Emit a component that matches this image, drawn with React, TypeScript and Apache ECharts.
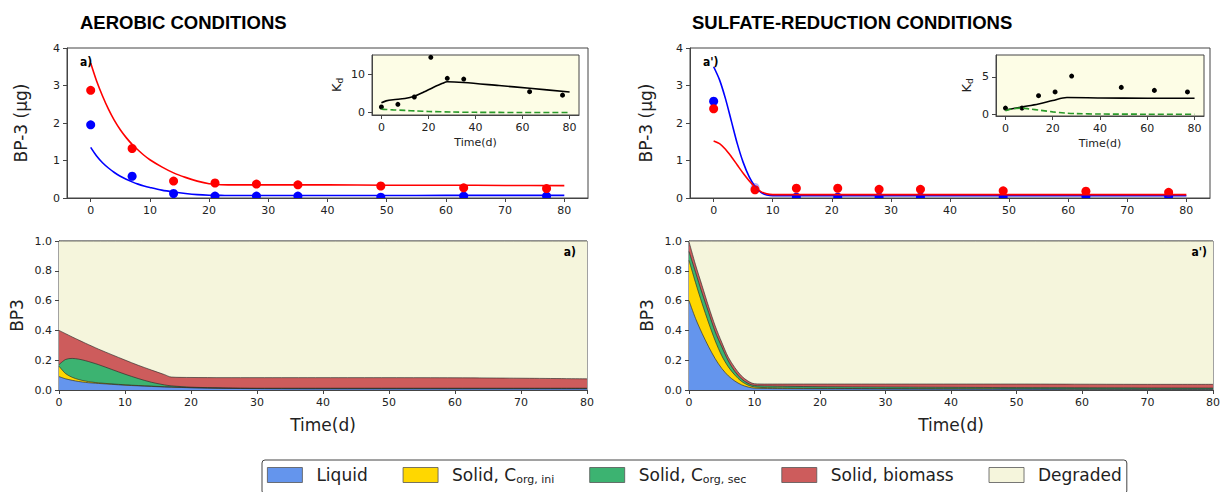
import { useEffect, useRef } from "react";
import * as echarts from "echarts";

// ---------- DATA ----------
const sampleDays = [0, 7, 14, 21, 28, 35, 49, 63, 77];
const aerobicRedObs = [2.87, 1.32, 0.45, 0.4, 0.37, 0.35, 0.32, 0.27, 0.25];
const aerobicBlueObs = [1.95, 0.58, 0.12, 0.05, 0.05, 0.05, 0.02, 0.05, 0.05];
const sulfateRedObs = [2.38, 0.22, 0.26, 0.26, 0.23, 0.23, 0.19, 0.18, 0.15];
const sulfateBlueObs = [2.58, 0.28, 0.02, 0.02, 0.02, 0.02, 0.02, 0.04, 0.04];

const aerobicModelDays = [0, 1, 2, 3, 4, 5, 6, 7, 8, 9, 10, 12, 14, 16, 18, 20, 22, 25, 30, 40, 50, 60, 70, 80];
const aerobicRedModel = [3.6, 3.12, 2.72, 2.37, 2.07, 1.82, 1.61, 1.43, 1.28, 1.14, 1.02, 0.83, 0.67, 0.55, 0.45, 0.38, 0.355, 0.35, 0.35, 0.35, 0.34, 0.34, 0.335, 0.33];
const aerobicBlueModel = [1.35, 1.12, 0.94, 0.8, 0.68, 0.58, 0.5, 0.43, 0.37, 0.32, 0.28, 0.21, 0.16, 0.12, 0.09, 0.075, 0.07, 0.065, 0.065, 0.065, 0.065, 0.07, 0.07, 0.07];

const sulfateModelDays = [0, 1, 2, 3, 4, 5, 6, 7, 8, 9, 10, 12, 15, 20, 30, 40, 50, 60, 70, 80];
const sulfateBlueModel = [3.5, 3.15, 2.65, 2.05, 1.45, 0.95, 0.57, 0.31, 0.15, 0.08, 0.06, 0.06, 0.06, 0.06, 0.06, 0.06, 0.06, 0.06, 0.06, 0.06];
const sulfateRedModel = [1.52, 1.45, 1.3, 1.1, 0.88, 0.66, 0.46, 0.29, 0.17, 0.11, 0.09, 0.09, 0.09, 0.09, 0.09, 0.09, 0.09, 0.09, 0.09, 0.09];

// Kd insets
const aerobicKdDays = [0, 7, 14, 21, 28, 35, 63, 77];
const aerobicKdObs = [1.5, 2.2, 4.1, 14.5, 9.0, 8.8, 5.5, 4.6];
const aerobicKdModelDays = [0, 2, 5, 10, 14, 18, 22, 26, 28, 35, 50, 63, 80];
const aerobicKdModel = [2.6, 3.1, 3.4, 3.7, 4.3, 5.4, 6.6, 7.7, 8.1, 7.9, 7.1, 6.4, 5.4];
const aerobicKdGreenDays = [0, 2, 5, 10, 15, 20, 30, 40, 60, 80];
const aerobicKdGreen = [0.9, 0.85, 0.75, 0.6, 0.45, 0.32, 0.18, 0.1, 0.06, 0.05];

const sulfateKdDays = [0, 7, 14, 21, 28, 49, 63, 77];
const sulfateKdObs = [0.85, 0.85, 2.5, 3.0, 5.1, 3.6, 3.2, 3.0];
const sulfateKdModelDays = [0, 7, 14, 20, 26, 40, 60, 80];
const sulfateKdModel = [0.6, 1.0, 1.4, 1.85, 2.25, 2.2, 2.15, 2.15];
const sulfateKdGreenDays = [0, 3, 7, 10, 15, 20, 25, 30, 40, 60, 80];
const sulfateKdGreen = [0.5, 0.75, 0.85, 0.75, 0.55, 0.35, 0.2, 0.12, 0.06, 0.04, 0.03];

// Stacked fractions (cumulative tops of each layer)
const aerobicStackDays = [0, 1, 2, 3, 4, 5, 6, 8, 10, 12, 14, 16, 17, 20, 25, 30, 40, 50, 60, 70, 80];
const aerobicBiomassTop = [0.4, 0.378, 0.356, 0.335, 0.314, 0.294, 0.274, 0.237, 0.201, 0.166, 0.134, 0.103, 0.087, 0.084, 0.083, 0.083, 0.083, 0.083, 0.082, 0.079, 0.075];
const aerobicCorgSecTop = [0.17, 0.205, 0.212, 0.207, 0.197, 0.184, 0.17, 0.138, 0.106, 0.077, 0.052, 0.034, 0.028, 0.019, 0.014, 0.012, 0.012, 0.012, 0.012, 0.012, 0.012];
const aerobicCorgIniTop = [0.16, 0.11, 0.085, 0.07, 0.06, 0.053, 0.048, 0.041, 0.035, 0.03, 0.026, 0.022, 0.02, 0.016, 0.012, 0.01, 0.009, 0.009, 0.009, 0.009, 0.009];
const aerobicLiquidTop = [0.09, 0.075, 0.065, 0.057, 0.051, 0.047, 0.044, 0.038, 0.032, 0.028, 0.024, 0.02, 0.019, 0.015, 0.011, 0.009, 0.008, 0.008, 0.008, 0.008, 0.008];

const sulfateStackDays = [0, 1, 2, 3, 4, 5, 6, 7, 8, 9, 10, 12, 15, 20, 30, 40, 50, 60, 70, 80];
const sulfateBiomassTop = [0.995, 0.84, 0.7, 0.56, 0.43, 0.32, 0.22, 0.15, 0.095, 0.06, 0.042, 0.04, 0.04, 0.04, 0.04, 0.04, 0.04, 0.039, 0.038, 0.038];
const sulfateCorgSecTop = [0.93, 0.79, 0.65, 0.52, 0.39, 0.29, 0.195, 0.125, 0.075, 0.045, 0.03, 0.027, 0.025, 0.022, 0.02, 0.018, 0.016, 0.015, 0.014, 0.013];
const sulfateCorgIniTop = [0.87, 0.72, 0.58, 0.45, 0.33, 0.23, 0.155, 0.1, 0.058, 0.033, 0.02, 0.016, 0.013, 0.011, 0.009, 0.008, 0.007, 0.007, 0.006, 0.006];
const sulfateLiquidTop = [0.6, 0.48, 0.38, 0.29, 0.21, 0.145, 0.095, 0.06, 0.035, 0.02, 0.012, 0.01, 0.009, 0.008, 0.007, 0.006, 0.006, 0.005, 0.005, 0.005];

const degradedDays = [0, 80];
const degradedTop = [1, 1];

// Tick labels
const mainDayTicks = [0, 10, 20, 30, 40, 50, 60, 70, 80];
const insetDayTicks = [0, 20, 40, 60, 80];
const aerobicKdTicks = [0, 10];
const sulfateKdTicks = [0, 5];

const layerNames = ["Liquid", "Solid, Corg,ini", "Solid, Corg,sec", "Solid, biomass", "Degraded"];
const layerColors = ["#6495ED", "#FFD700", "#3CB371", "#CD5C5C", "#F5F5DC"];

// ---------- HELPERS ----------
const FONT = "'DejaVu Sans', sans-serif";
const TITLE_FONT = "'Liberation Sans', Arial, sans-serif";
const AXIS_COLOR = "#444";
const TEXT_COLOR = "#222";

const pairs = (xs: number[], ys: number[]) => xs.map((x, i) => [x, ys[i]]);

function axisBase(extra: any) {
  return {
    type: "value",
    axisLine: { show: true, onZero: false, lineStyle: { color: AXIS_COLOR, width: 1 } },
    axisTick: { show: true, length: 4, lineStyle: { color: AXIS_COLOR } },
    axisLabel: { color: TEXT_COLOR, fontSize: 11, fontFamily: FONT, margin: 7 },
    splitLine: { show: false },
    nameLocation: "middle",
    nameTextStyle: { color: TEXT_COLOR, fontFamily: FONT },
    ...extra,
  };
}

function withCustomTicks(ticks: number[], extra: any) {
  const a = axisBase(extra);
  a.axisTick = { ...a.axisTick, customValues: ticks };
  a.axisLabel = { ...a.axisLabel, customValues: ticks };
  return a;
}

// circles clipped to the plotting area (like matplotlib markers at the axis edge)
function dots(name: string, x: number, y: number, days: number[], vals: number[], color: string, size: number, faded: number[] = []) {
  return {
    type: "custom",
    name,
    xAxisIndex: x,
    yAxisIndex: y,
    clip: true,
    encode: { x: 0, y: 1 },
    data: pairs(days, vals),
    renderItem: (params: any, api: any) => {
      const p = api.coord([api.value(0), api.value(1)]);
      return {
        type: "circle",
        shape: { cx: p[0], cy: p[1], r: size / 2 },
        style: { fill: color, opacity: faded.includes(params.dataIndex) ? 0.3 : 1 },
      };
    },
    z: 3,
  };
}

function scatter(name: string, x: number, y: number, days: number[], vals: number[], color: string, size: number) {
  return {
    type: "scatter",
    name,
    xAxisIndex: x,
    yAxisIndex: y,
    symbolSize: size,
    itemStyle: { color, opacity: 1 },
    data: pairs(days, vals),
    z: 3,
  };
}

function line(name: string, x: number, y: number, days: number[], vals: number[], color: string, width: number, dashed?: boolean) {
  return {
    type: "line",
    name,
    xAxisIndex: x,
    yAxisIndex: y,
    data: pairs(days, vals),
    showSymbol: false,
    symbol: "none",
    smooth: 0.3,
    lineStyle: { color, width, type: dashed ? [6, 3] : "solid" },
    z: 4,
  };
}

function layer(idx: number, axis: number, days: number[], tops: number[]) {
  return {
    type: "line",
    name: layerNames[idx],
    xAxisIndex: axis,
    yAxisIndex: axis,
    data: pairs(days, tops),
    showSymbol: false,
    symbol: "none",
    smooth: 0.3,
    itemStyle: { color: layerColors[idx] },
    lineStyle: { color: "rgba(40,40,40,0.8)", width: 0.8 },
    areaStyle: { color: layerColors[idx], opacity: 1, origin: "start" },
    z: 2,
  };
}

const kdName = "{k|K}{d|d}";
const kdRich = {
  k: { fontSize: 13, fontFamily: FONT, color: TEXT_COLOR },
  d: { fontSize: 9, fontFamily: FONT, color: TEXT_COLOR, padding: [6, 0, 0, 0] },
};

const legendLabels: Record<string, string> = {
  Liquid: "{n|Liquid}",
  "Solid, Corg,ini": "{n|Solid, C}{s|org, ini}",
  "Solid, Corg,sec": "{n|Solid, C}{s|org, sec}",
  "Solid, biomass": "{n|Solid, biomass}",
  Degraded: "{n|Degraded}",
};

function buildOption() {
  const grids = [
    { left: 67, top: 48, width: 521, height: 150 },
    { left: 690, top: 48, width: 520, height: 150 },
    { left: 372, top: 55, width: 207, height: 60, backgroundColor: "#fdfde6" },
    { left: 996, top: 55, width: 208, height: 61, backgroundColor: "#fdfde6" },
    { left: 59, top: 241, width: 528, height: 149 },
    { left: 689, top: 241, width: 524, height: 149 },
  ].map((g) => ({ show: true, borderColor: AXIS_COLOR, borderWidth: 1, backgroundColor: "transparent", ...g }));

  const xAxis = [
    withCustomTicks(mainDayTicks, { gridIndex: 0, min: -4, max: 84 }),
    withCustomTicks(mainDayTicks, { gridIndex: 1, min: -4, max: 84 }),
    withCustomTicks(insetDayTicks, {
      gridIndex: 2, min: -4, max: 84, name: "Time(d)", nameGap: 22,
      nameTextStyle: { color: TEXT_COLOR, fontFamily: FONT, fontSize: 11 },
    }),
    withCustomTicks(insetDayTicks, {
      gridIndex: 3, min: -4, max: 84, name: "Time(d)", nameGap: 22,
      nameTextStyle: { color: TEXT_COLOR, fontFamily: FONT, fontSize: 11 },
    }),
    axisBase({
      gridIndex: 4, min: 0, max: 80, interval: 10, name: "Time(d)", nameGap: 26,
      nameTextStyle: { color: TEXT_COLOR, fontFamily: FONT, fontSize: 17 },
    }),
    axisBase({
      gridIndex: 5, min: 0, max: 80, interval: 10, name: "Time(d)", nameGap: 26,
      nameTextStyle: { color: TEXT_COLOR, fontFamily: FONT, fontSize: 17 },
    }),
  ];

  const yAxis = [
    axisBase({
      gridIndex: 0, min: 0, max: 4, interval: 1, name: "BP-3 (μg)", nameGap: 38,
      nameTextStyle: { color: TEXT_COLOR, fontFamily: FONT, fontSize: 17 },
    }),
    axisBase({
      gridIndex: 1, min: 0, max: 4, interval: 1, name: "BP-3 (μg)", nameGap: 36,
      nameTextStyle: { color: TEXT_COLOR, fontFamily: FONT, fontSize: 17 },
    }),
    withCustomTicks(aerobicKdTicks, {
      gridIndex: 2, min: -0.6, max: 15.1, name: kdName, nameGap: 28,
      nameTextStyle: { color: TEXT_COLOR, fontFamily: FONT, fontSize: 13, rich: kdRich },
    }),
    withCustomTicks(sulfateKdTicks, {
      gridIndex: 3, min: -0.2, max: 7.9, name: kdName, nameGap: 22,
      nameTextStyle: { color: TEXT_COLOR, fontFamily: FONT, fontSize: 13, rich: kdRich },
    }),
    axisBase({
      gridIndex: 4, min: 0, max: 1, interval: 0.2, name: "BP3", nameGap: 34,
      axisLabel: { color: TEXT_COLOR, fontSize: 11, fontFamily: FONT, margin: 7, formatter: (v: number) => v.toFixed(1) },
      nameTextStyle: { color: TEXT_COLOR, fontFamily: FONT, fontSize: 17 },
    }),
    axisBase({
      gridIndex: 5, min: 0, max: 1, interval: 0.2, name: "BP3", nameGap: 34,
      axisLabel: { color: TEXT_COLOR, fontSize: 11, fontFamily: FONT, margin: 7, formatter: (v: number) => v.toFixed(1) },
      nameTextStyle: { color: TEXT_COLOR, fontFamily: FONT, fontSize: 17 },
    }),
  ];

  const series: any[] = [
    // aerobic main
    dots("aer-liquid-obs", 0, 0, sampleDays, aerobicBlueObs, "#0000ff", 9),
    dots("aer-total-obs", 0, 0, sampleDays, aerobicRedObs, "#ff0000", 9),
    line("aer-liquid-model", 0, 0, aerobicModelDays, aerobicBlueModel, "#0000ff", 1.6),
    line("aer-total-model", 0, 0, aerobicModelDays, aerobicRedModel, "#ff0000", 1.6),
    // sulfate main
    dots("sul-liquid-obs", 1, 1, sampleDays, sulfateBlueObs, "#0000ff", 9, [1]),
    dots("sul-total-obs", 1, 1, sampleDays, sulfateRedObs, "#ff0000", 9),
    line("sul-liquid-model", 1, 1, sulfateModelDays, sulfateBlueModel, "#0000ff", 1.6),
    line("sul-total-model", 1, 1, sulfateModelDays, sulfateRedModel, "#ff0000", 1.6),
    // aerobic Kd inset
    scatter("aer-kd-obs", 2, 2, aerobicKdDays, aerobicKdObs, "#000000", 5),
    line("aer-kd-model", 2, 2, aerobicKdModelDays, aerobicKdModel, "#000000", 1.6),
    line("aer-kd-green", 2, 2, aerobicKdGreenDays, aerobicKdGreen, "#2a9a2a", 1.6, true),
    // sulfate Kd inset
    scatter("sul-kd-obs", 3, 3, sulfateKdDays, sulfateKdObs, "#000000", 5),
    line("sul-kd-model", 3, 3, sulfateKdModelDays, sulfateKdModel, "#000000", 1.6),
    line("sul-kd-green", 3, 3, sulfateKdGreenDays, sulfateKdGreen, "#2a9a2a", 1.6, true),
    // aerobic stack (drawn back to front)
    layer(4, 4, degradedDays, degradedTop),
    layer(3, 4, aerobicStackDays, aerobicBiomassTop),
    layer(2, 4, aerobicStackDays, aerobicCorgSecTop),
    layer(1, 4, aerobicStackDays, aerobicCorgIniTop),
    layer(0, 4, aerobicStackDays, aerobicLiquidTop),
    // sulfate stack
    layer(4, 5, degradedDays, degradedTop),
    layer(3, 5, sulfateStackDays, sulfateBiomassTop),
    layer(2, 5, sulfateStackDays, sulfateCorgSecTop),
    layer(1, 5, sulfateStackDays, sulfateCorgIniTop),
    layer(0, 5, sulfateStackDays, sulfateLiquidTop),
  ];

  const panelFont = `bold 12px 'DejaVu Sans Condensed', ${TITLE_FONT}`;

  return {
    animation: false,
    backgroundColor: "#ffffff",
    textStyle: { fontFamily: FONT },
    grid: grids,
    xAxis,
    yAxis,
    series,
    legend: {
      left: 262,
      top: 460,
      orient: "horizontal",
      itemWidth: 35,
      itemHeight: 15,
      itemGap: 35,
      padding: [5, 5, 9, 5],
      borderColor: "#444",
      borderWidth: 1,
      borderRadius: 3,
      selectedMode: false,
      data: layerNames.map((n, i) => ({
        name: n,
        icon: "rect",
        itemStyle: { color: layerColors[i], borderColor: "#555", borderWidth: 0.8 },
      })),
      formatter: (n: string) => legendLabels[n] || n,
      textStyle: {
        fontFamily: FONT,
        fontSize: 17,
        color: TEXT_COLOR,
        padding: [0, 0, 0, 9],
        rich: {
          n: { fontSize: 17, fontFamily: FONT, color: TEXT_COLOR, lineHeight: 22 },
          s: { fontSize: 11, fontFamily: FONT, color: TEXT_COLOR, lineHeight: 11, padding: [9, 0, 0, 0] },
        },
      },
    },
    graphic: [
      { type: "text", x: 80, y: 22, style: { text: "AEROBIC CONDITIONS", font: `bold 18.5px ${TITLE_FONT}`, fill: "#000", verticalAlign: "middle" } },
      { type: "text", x: 692, y: 22, style: { text: "SULFATE-REDUCTION CONDITIONS", font: `bold 18.5px ${TITLE_FONT}`, fill: "#000", verticalAlign: "middle" } },
      { type: "text", x: 80, y: 62, z: 10, style: { text: "a)", font: panelFont, fill: "#000", verticalAlign: "middle" } },
      { type: "text", x: 703, y: 62, z: 10, style: { text: "a')", font: panelFont, fill: "#000", verticalAlign: "middle" } },
      { type: "text", x: 576, y: 252, z: 10, style: { text: "a)", font: panelFont, fill: "#000", align: "right", verticalAlign: "middle" } },
      { type: "text", x: 1207, y: 252, z: 10, style: { text: "a')", font: panelFont, fill: "#000", align: "right", verticalAlign: "middle" } },
    ],
  };
}

export default function App() {
  const ref = useRef<HTMLDivElement>(null);
  useEffect(() => {
    if (!ref.current) return;
    const chart = echarts.init(ref.current, null, { renderer: "svg" });
    chart.setOption(buildOption() as any);
    return () => chart.dispose();
  }, []);
  return (
    <div
      ref={ref}
      style={{ position: "absolute", left: 0, top: 0, width: 1223, height: 492, background: "#fff" }}
    />
  );
}
